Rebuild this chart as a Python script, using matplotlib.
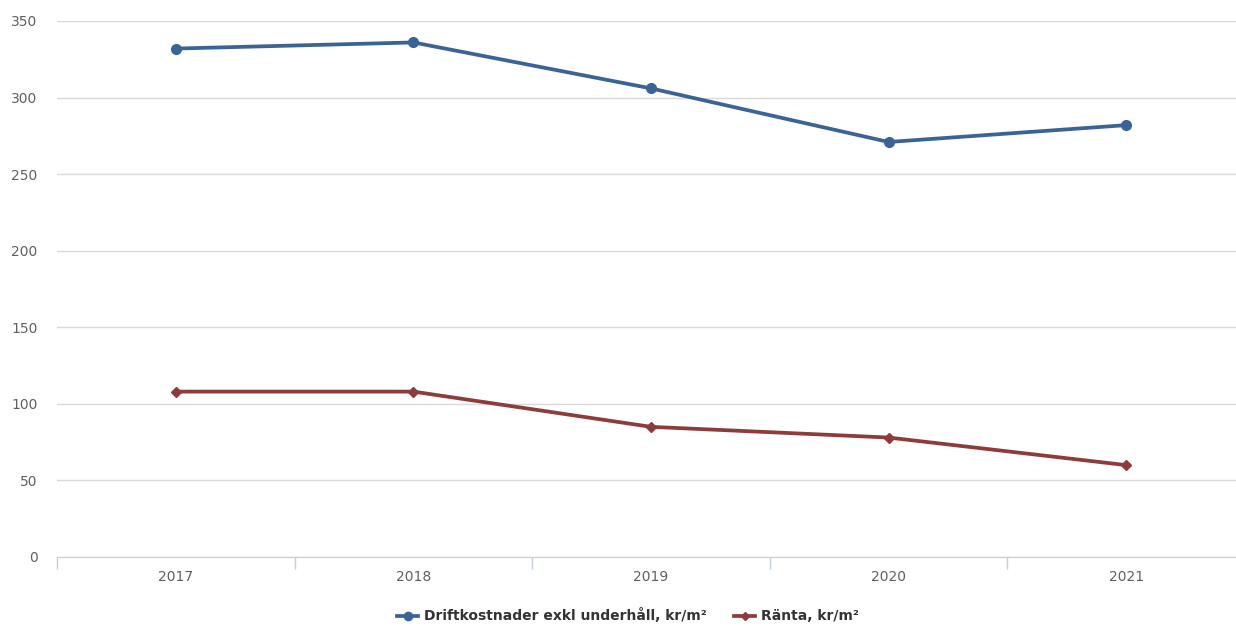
import matplotlib
matplotlib.use('Agg')
import matplotlib.pyplot as plt
from matplotlib.ticker import FixedLocator, NullFormatter

years = ['2017', '2018', '2019', '2020', '2021']
drift = [332, 336, 306, 271, 282]
ranta = [108, 108, 85, 78, 60]
labels = ['Driftkostnader exkl underhåll, kr/m²', 'Ränta, kr/m²']

blue = '#3b6496'
red = '#8e3b3b'

fig = plt.figure(figsize=(12.36, 6.26), dpi=100)
# axes run a bit past the right edge like the original
ax = fig.add_axes([57 / 1236, 69 / 626, 1188 / 1236, 536 / 626])

x = range(len(years))
ax.plot(x, drift, color=blue, lw=2.7, marker='o', ms=7, label=labels[0], zorder=3)
ax.plot(x, ranta, color=red, lw=2.7, marker='D', ms=5, label=labels[1], zorder=3)

ax.set_xlim(-0.5, len(years) - 0.5)
ax.set_ylim(0, 350)
ax.set_yticks(range(0, 351, 50))
ax.yaxis.grid(True, color='#d9d9d9', lw=1)
ax.set_axisbelow(True)
ax.tick_params(axis='y', length=0, pad=14, labelsize=10, labelcolor='#606060')

ax.set_xticks(list(x))
ax.set_xticklabels(years)
ax.xaxis.set_minor_locator(FixedLocator([i - 0.5 for i in x]))
ax.xaxis.set_minor_formatter(NullFormatter())
ax.tick_params(axis='x', which='major', length=0, pad=9.5, labelsize=10, labelcolor='#606060')
ax.tick_params(axis='x', which='minor', length=8.5, width=1, color='#c0d0e0')

for s in ['top', 'right', 'left']:
    ax.spines[s].set_visible(False)
ax.spines['bottom'].set_color('#c0d0e0')

leg = fig.legend(loc='center', bbox_to_anchor=(628 / 1236, 1 - 616 / 626), ncol=2,
                 frameon=False, handlelength=1.5, columnspacing=2.0,
                 handletextpad=0.4, markerscale=0.85, prop={'weight': 'bold', 'size': 10})
for t in leg.get_texts():
    t.set_color('#333333')

fig.savefig('out.png', dpi=100)
